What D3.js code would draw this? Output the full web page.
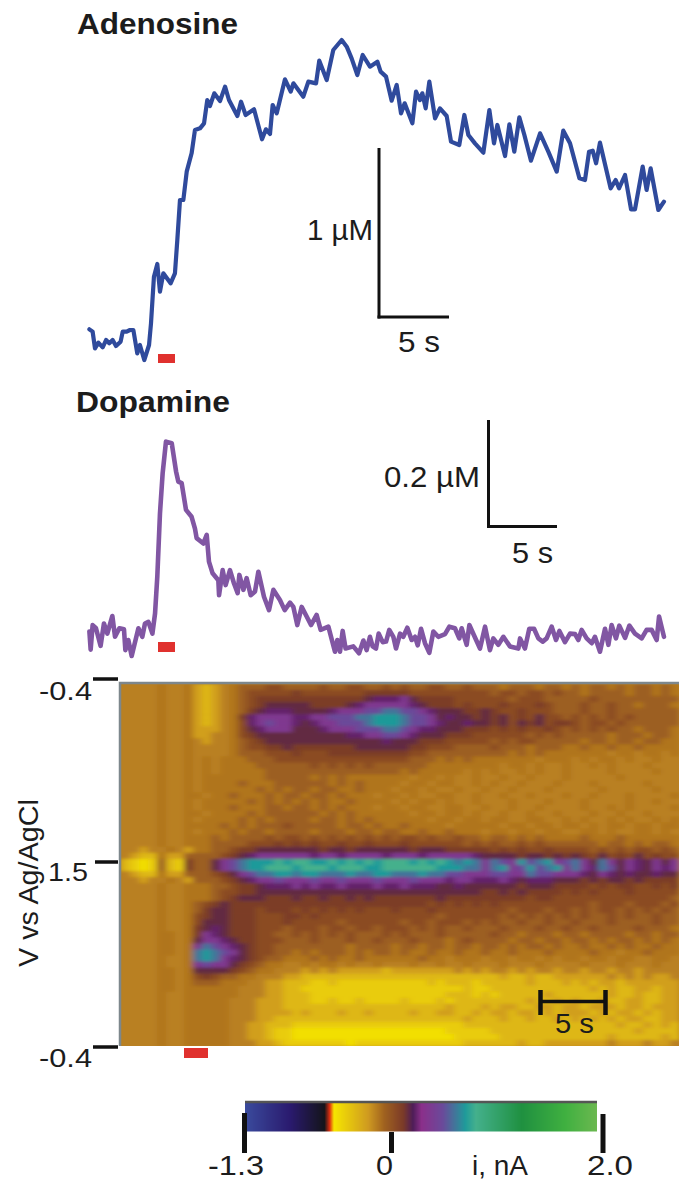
<!DOCTYPE html>
<html>
<head>
<meta charset="utf-8">
<script src="https://cdn.jsdelivr.net/npm/d3@7"></script>
<style>
  html, body { margin: 0; background: #fff; }
  svg { display: block; }
  text { font-family: "Liberation Sans", Arial, sans-serif; fill: #1c1c1c; }
</style>
</head>
<body>
<svg id="chart" width="679" height="1180"></svg>
<script>
// Adenosine trace: time from stimulation onset (s), concentration (nM)
const adenosineTime = [-4.90,-4.67,-4.50,-4.26,-3.95,-3.71,-3.48,-3.24,-3.00,-2.67,-2.52,-2.24,-2.00,-1.76,-1.48,-1.29,-0.98,-0.64,-0.50,-0.29,-0.05,0.14,0.38,0.90,1.21,1.38,1.57,1.81,2.05,2.40,2.64,3.00,3.29,3.52,3.71,4.02,4.43,4.79,5.07,5.67,5.93,6.26,6.86,7.43,7.71,8.00,8.19,8.48,9.07,9.48,9.67,10.38,10.74,11.29,11.52,12.05,12.52,13.12,13.48,13.83,14.24,14.62,15.14,15.67,15.90,16.29,16.69,17.05,17.36,17.62,18.17,18.43,18.71,18.88,19.12,19.38,19.79,20.14,20.62,20.93,21.52,21.88,22.17,22.64,23.24,23.67,24.00,24.24,24.79,25.10,25.45,25.81,26.17,26.64,27.29,27.88,28.48,28.95,29.43,30.10,30.50,30.79,31.05,31.29,31.57,32.33,32.69,32.93,33.36,33.79,34.07,34.62,34.90,35.19,35.74,36.14];
const adenosineNM = [124,110,10,44,16,60,40,60,24,50,110,110,120,120,-20,30,-60,30,160,440,516,350,460,400,460,660,900,900,1070,1180,1320,1330,1360,1500,1464,1540,1494,1580,1500,1404,1490,1410,1444,1264,1324,1296,1470,1420,1624,1550,1600,1520,1610,1600,1736,1620,1800,1860,1820,1750,1650,1770,1700,1730,1670,1640,1496,1590,1420,1480,1360,1550,1500,1540,1450,1610,1390,1450,1404,1250,1230,1410,1290,1240,1184,1440,1240,1350,1164,1354,1190,1396,1290,1136,1300,1190,1070,1316,1240,1030,1020,1190,1196,1120,1244,970,1020,970,1050,844,844,1100,960,1090,840,890];

// Dopamine trace
const dopamineTime = [-4.90,-4.81,-4.67,-4.43,-4.10,-3.86,-3.62,-3.26,-3.07,-2.76,-2.43,-2.33,-2.12,-1.88,-1.40,-1.12,-0.93,-0.69,-0.40,-0.21,-0.05,0.14,0.33,0.57,0.98,1.29,1.45,1.69,2.00,2.40,2.64,2.76,3.24,3.48,3.64,3.90,4.31,4.36,4.62,4.83,5.14,5.43,5.69,5.81,6.10,6.33,6.62,6.93,7.17,7.57,7.93,8.24,8.71,9.05,9.43,9.67,9.95,10.26,10.62,10.93,11.33,11.62,12.17,12.64,12.81,13.00,13.19,13.40,13.95,14.36,14.67,14.90,15.14,15.33,15.57,15.76,16.05,16.29,16.52,16.81,17.00,17.29,17.52,17.81,18.12,18.36,18.55,18.79,19.07,19.38,19.67,20.02,20.50,20.81,21.21,21.52,21.69,22.05,22.24,22.57,23.00,23.36,23.71,23.95,24.31,24.67,25.14,25.74,25.86,26.21,26.52,26.86,27.17,27.48,27.76,28.12,28.43,28.67,29.07,29.43,29.79,30.02,30.26,30.62,30.98,31.21,31.57,31.93,32.17,32.40,32.71,32.95,33.36,33.67,34.07,34.55,34.90,35.26,35.62,35.79,36.14];
const dopamineNM = [16,-18,28,22,-11,31,12,45,6,22,20,-19,0,-30,22,6,31,34,12,50,119,237,312,372,369,316,297,294,244,231,209,191,181,197,147,125,112,84,131,103,131,106,88,122,94,116,84,91,128,81,56,94,75,56,70,62,28,62,44,28,47,19,25,-22,0,-22,17,-16,-12,-25,-1,-19,6,-12,-16,12,-4,-3,19,6,-16,12,6,23,0,6,-10,21,-6,-24,16,6,11,25,22,3,22,-9,28,9,-16,25,-19,3,-9,6,-12,-16,3,-16,21,21,3,-3,3,25,0,17,-4,12,11,0,19,3,-6,6,-22,21,-9,28,3,27,4,27,12,3,19,19,0,44,6];

// Voltammogram, one letter per cell, looked up in heatLevelKeys / heatLevelNA.
// Rows run from the top of the image down, groups of ten cells are for counting.
const heatLevelKeys = ['Y','y','g','o','a','b','c','d','e','f','m','p','v','s','t','u'];
const heatLevelNA = [-0.44,-0.36,-0.27,-0.17,-0.08,-0.05,0.02,0.10,0.17,0.23,0.30,0.42,0.55,0.66,0.76,0.86];
const heatRows = [
  'aaaabaabog oabcccddcc ccdccddccd cdccddccdc ccbcccbccb cbccbcbccb cb',
  'aaaabaabog oabcddddde dddddddeee eedddddddd dcddcddcdc cbccccbccb cb',
  'aaaabaabog oabcdeeeee eeeeeeefmm mpfeeeeddd dddcdddccc ccdccccccc cc',
  'aaaabaabog oabcdeffff feeeefmppp ppmfeeeded ddedddedcc cdccdccbcc cb',
  'aaaabaabog oabcefmmmf fffmpppvvs svvpmfffee feddedddcc cdccdccccc cc',
  'aaaabaabog oabemppppm mppvvvsstt tsvvpfmffe fefdedfddc dcdcdcdccc cc',
  'aaaabaabog oabdmpvppm fmppvvvstt tsvvpmffmf fefdfefdee dcddcdcccc cc',
  'aaaabaaboo oabdfmpppf ffmpppvvvs svpmmfffee edededdedc dcdcdccbcc cb',
  'aaaabaaboo aabdefffff fffffmmppv vpmfffeeed dddddcdcdc ccccbcccbc cb',
  'aaaabaabao aabcdeffff fffffffffm fffeeedddd dcdcddcccc cbccbccbcc bb',
  'aaaabaabaa aabcddeefe eeeeeeffff ffeedddccc cdcccbcccb bcbbcbbcbb bb',
  'aaaabaabaa aabcccddde dddeeeeeee eeddcccccc cccbcbcbbb bbbbabbabb ab',
  'aaaabaabab abbbcccddd dddddddddd ddcccbcbcb bbbbbbabbb ababbabaab aa',
  'aaaabaabab abbbbccccc cdcdcdcdcc ccccbbbbbb bbabbabaab aababaaaba aa',
  'aaaabaabab abbbbbcccc cccccccccc cbcbbbbbab abaababaab aaaabaaaab aa',
  'aaaabaabab bbbbbbcccc cbcbcbbbbb bbabbabaab aabaabaaab aaaaabaaaa aa',
  'aaaabaabab bbbcbbbccc cccbcbcbbb babbabbaab abaabaaaba aabaaaaaba aa',
  'aaaabaabab bbbbbcbcbc cbccbbcbbb abbabaabaa baabaaabaa aaabaaaaab aa',
  'aaaabaabba bbcbbbcbcc bccbcbbbab babaabbaab aabaabaaab aabaaabaaa ab',
  'aaaabaabab bbbbcbcbcb cbcbbcbbbb ababbabaab aaabaaabaa abaaaabaab aa',
  'aaaabaabab bbcbbbccbc cbcbcbbbab babbaabbaa baabaabaaa abaababaaa ab',
  'aaaabaabba bbbbcbcccc ccbcbcbbbb bbabbabbab aabaabaaba aabaabaaba aa',
  'aaaabaabab bbbcbcbccc cbccbcbcbb bbbbabbabb abbaabbaab abaababaab ab',
  'aaaabaabbb bcbcbcccdc ccccbccbcb bcbbbbabbb bbabbabbab bababbabba bb',
  'aaaabaabab bbcbccbccc cbcccbccbc cbbcbbcbbb abbabbabba abbabaabba ba',
  'aaaabaabbb cbccccdcdd cdcdcdcdcd cddcdccdcc bccbcbcbbb bcbbbcbbbb bb',
  'aaaabaabbb ccccdddede deddeddedd deddddddcd cdccdcdccc cccbccbcbc cb',
  'aaoaabaobb ccdeefffff ffeffeffff ffefffeeee edededdedd ddcdcdcddc dc',
  'aoggbooccc cdefmppppp pmppmppppm pppmpppppm ffffeffefe fedfdedfde dd',
  'gyYycgyecc fpvstttutu uttutututu uutututsts psvptvstpv spfspfpmfp fp',
  'gyYycgyecc fpvsttuuut uuutuuuttu uuuuutttss pstpvtvstp spmsvfpmfp mp',
  'aoggbooccc defpvsstts ttssstsstt ssstssvvpp pvvppsvvpp pmfpmfmffm ff',
  'aaoaabaocc cdefmppvpp pvppvpppvp ppvpppmppm mmpmfmmmff fefeffefee ee',
  'aaaabaabbb ccdeefmmmp mpmmpmmmpm mpmmmffmff ffffefffee eededeedde de',
  'aaaabaabbb cddeefffff ffffffffff ffffffffff eefefeeeed ededddeddd dd',
  'aaaabaabbb cdefffeeef eefeefefee eeeeefeeee eeeeedeedd dddddddddd dc',
  'aaaabaabcd efeeeeeeee eeeeeeeeee eeeededede dedddddddd ddcdddcddd cd',
  'aaaabaabce ffeeedeeed ededededdd edddeddddd dddcdddcdd cdcddcdcdc dc',
  'aaaabaabde ffeeedddee dedddddddd dddddcdddd ddcdcdcdcd cdccdcdccd cc',
  'aaaabaabdf ffeeeddded ddddcddddd dcddcdddcd cdccdccdcc dcccdccccd cc',
  'aaaabaabef mfeeedddcd ddcddcddcd ddcdcdccdc ccdcccdccd ccdccccdcc cb',
  'aaaabbabep mfeeeddccd cdcdcdcccd cdcccdcccc cdccbcccbc cbccccbccb cc',
  'aaaabbabfp pmfeedddcc cdcccdccdc ccdcccbcdc cccbccbccb ccbcbccbcb cb',
  'aaaabbabps vpmfeddccc cccccbcccc bccbccbccb ccbcbccbcb bcbbcbcbbc bb',
  'aaaabbabst svpfeddccb cbcccbcbcc bcbbcbbcbb cbbcbbbcbb bbcbbabbcb bb',
  'aaaabaabst spmfedccbb bcbcbbcbbb bbbcbbabbb abbabbabab babbabbaab ba',
  'aaaabaabpv ppfedcbbaa babbabaaba aabaabaaba aabaaabaaa abaaabaaab aa',
  'aaaabbabff ffedcbbaaa oaoaooooog oooooooaoa oaaoaoaaoa aoaaoaaoaa aa',
  'aaaabbabde dccbbaaaoo gggggggggg gggggggggg ggoggoggoo ooooaoaoao oa',
  'aaaabbabcc cbbbaaoogg gyygyyyyyy yyyygygggy gggggogggo gogoogoooo oo',
  'aaaabbabbb bbbaaaoogg yyyyyyyyyy yyyyyyyygy yggggggggg ggogoggoog oo',
  'aaaabaabbb bbbaaaoogg gyyyyyyyyy yyyyyygggy gygggggogg ggggoggogg oo',
  'aaaabaabbb bbaaaooogg gyygyygyyy ygyyygyggg gggggoggog oggoggoogg oo',
  'aaaabaabbb bbaaaooogg gggggggggg ggggggoggg ogooggoogo ogooogoogo oo',
  'aaaabaabbb bbaaaoooog ogggoggogg ggoggooggo googoogogo oogogoogog oo',
  'aaaabaabbb bbaaaooggg gggggggggg ggggggggog ggoggoggog ogogogoogg oo',
  'aaaabaabbb bbaaoogggy yyyyyyyyyy yyyyyyyygg gggggggggg gggggoggog og',
  'aaaabaabbb bbaaoogyyY YYYYYYYYYY YYYYYYyyyy yggggggggg gggggggogg gg',
  'aaaabaabbb bbaaoogyyY YYYYYYYYYY YYYYYYYyyy yygggggggg ggggoggggg og',
  'aaaabaabbb bbaaaoogyy yyyyyYyyyy yyyyyyyygg ggggoggooo ooooaoooao oa'
];

// Colour bar, i in nA
const colorStopsNA = [-1.3,-0.88,-0.56,-0.51,-0.47,-0.15,0.0,0.18,0.27,0.35,0.55,0.76,0.86,1.29,1.7,2.0];
const colorStops = ['#3a4a9c','#2a1a6e','#14141a','#e03010','#f6e600','#cf9a20','#a0621f','#7a3a28','#4e1d58','#8a2f8a','#6a4a9a','#1f9a9a','#44b08c','#1f9040','#40b040','#6cb850'];

const svg = d3.select('#chart');
const traceColors = { adenosine: '#2f4a9c', dopamine: '#8156a3' };
const stimColor = '#e0312e';

// Same time base for both traces, 5 s = 70 px
const xTime = d3.scaleLinear().domain([0, 5]).range([158, 228]);
const yAdenosine = d3.scaleLinear().domain([0, 1000]).range([350, 183.33]);
const yDopamine = d3.scaleLinear().domain([0, 200]).range([640, 533.33]);

function drawTrace(times, values, yScale, color, width) {
  const path = d3.line()
    .x((d, i) => xTime(times[i]))
    .y(d => yScale(d));
  svg.append('path')
    .attr('d', path(values))
    .attr('fill', 'none')
    .attr('stroke', color)
    .attr('stroke-width', width)
    .attr('stroke-linejoin', 'round')
    .attr('stroke-linecap', 'round');
}

function label(text, x, y, size, width, weight) {
  const t = svg.append('text')
    .attr('x', x)
    .attr('y', y)
    .attr('font-size', size)
    .text(text);
  if (width) t.attr('textLength', width).attr('lengthAdjust', 'spacingAndGlyphs');
  if (weight) t.attr('font-weight', weight);
  return t;
}

function stroke(x1, y1, x2, y2, w) {
  svg.append('line')
    .attr('x1', x1).attr('y1', y1)
    .attr('x2', x2).attr('y2', y2)
    .attr('stroke', '#111')
    .attr('stroke-width', w);
}

function stimBar(x, y, w, h) {
  svg.append('rect')
    .attr('x', x).attr('y', y)
    .attr('width', w).attr('height', h)
    .attr('fill', stimColor);
}

// Traces
drawTrace(adenosineTime, adenosineNM, yAdenosine, traceColors.adenosine, 4.2);
drawTrace(dopamineTime, dopamineNM, yDopamine, traceColors.dopamine, 4.6);

label('Adenosine', 77, 34, 29, 161, 'bold');
label('Dopamine', 76, 412, 29, 154, 'bold');

// Scale bars
stroke(379, 148, 379, 318.5, 3);
stroke(377.5, 317, 449, 317, 3);
label('1 µM', 307, 240, 29, 66);
label('5 s', 398, 352, 29, 42);
stimBar(158, 354, 17, 9);

stroke(488.5, 420, 488.5, 528, 3);
stroke(487, 526.5, 557, 526.5, 3);
label('0.2 µM', 384, 487, 29, 96);
label('5 s', 512, 563, 29, 41);
stimBar(158, 642, 17, 10);

// Heat map
const heatBox = { left: 121, top: 684, width: 558, height: 362 };
const heatCells = heatRows.map(r => r.replace(/ /g, ''));
const keyToNA = new Map(heatLevelKeys.map((k, i) => [k, heatLevelNA[i]]));
const heatColor = d3.scaleLinear().domain(colorStopsNA).range(colorStops).clamp(true);

const xCell = d3.scaleBand()
  .domain(d3.range(heatCells[0].length))
  .range([heatBox.left, heatBox.left + heatBox.width]);
const yCell = d3.scaleBand()
  .domain(d3.range(heatCells.length))
  .range([heatBox.top, heatBox.top + heatBox.height]);

const defs = svg.append('defs');
defs.append('clipPath').attr('id', 'heat-clip')
  .append('rect')
  .attr('x', heatBox.left).attr('y', heatBox.top)
  .attr('width', heatBox.width).attr('height', heatBox.height);
defs.append('filter').attr('id', 'heat-soft')
  .attr('filterUnits', 'userSpaceOnUse')
  .attr('x', 100).attr('y', 660).attr('width', 620).attr('height', 410)
  .append('feGaussianBlur')
  .attr('stdDeviation', '3 1.6');

const heatClip = svg.append('g').attr('clip-path', 'url(#heat-clip)');
const heatG = heatClip.append('g').attr('filter', 'url(#heat-soft)');

// Bleeds past the frame so the blur doesn't fade out at the edges
heatG.append('rect')
  .attr('x', heatBox.left - 12).attr('y', heatBox.top - 12)
  .attr('width', heatBox.width + 24).attr('height', heatBox.height + 24)
  .attr('fill', heatColor(heatLevelNA[4]));

heatCells.forEach((row, j) => {
  heatG.selectAll(null)
    .data(row.split(''))
    .enter()
    .append('rect')
    .attr('x', (d, i) => xCell(i))
    .attr('y', yCell(j))
    .attr('width', xCell.bandwidth() + 0.6)
    .attr('height', yCell.bandwidth() + 0.6)
    .attr('fill', d => heatColor(keyToNA.get(d)));
});

// Frame on the left and top of the map
svg.append('path')
  .attr('d', `M${heatBox.left - 1},${heatBox.top + heatBox.height}V${heatBox.top - 1}H${heatBox.left + heatBox.width}`)
  .attr('fill', 'none')
  .attr('stroke', '#7d878c')
  .attr('stroke-width', 2.5);

// Voltage axis
stroke(93, 679, 118, 679, 3.5);
stroke(95, 862, 118, 862, 3.5);
stroke(93, 1047, 118, 1047, 3.5);
label('-0.4', 39, 700, 26, 53);
label('1.5', 48, 881, 26, 40);
label('-0.4', 39, 1067, 26, 53);
label('V vs Ag/AgCl', 0, 0, 28, 168)
  .attr('transform', 'translate(38,967) rotate(-90)');
stimBar(184, 1048, 24, 10);

// 5 s bar on the map
stroke(539, 1001.5, 606, 1001.5, 3.5);
stroke(540.5, 990, 540.5, 1015, 4.5);
stroke(605.5, 990, 605.5, 1015, 4.5);
label('5 s', 555, 1033, 27, 39);

// Colour bar, one pixel column per value
const xColor = d3.scaleLinear().domain([-1.3, 2.0]).range([245, 597]);
svg.append('g').selectAll('rect')
  .data(d3.range(245, 597))
  .enter()
  .append('rect')
  .attr('x', d => d)
  .attr('y', 1103)
  .attr('width', 1)
  .attr('height', 28.5)
  .attr('fill', d => heatColor(xColor.invert(d)));
svg.append('line')
  .attr('x1', 245).attr('x2', 597)
  .attr('y1', 1102).attr('y2', 1102)
  .attr('stroke', '#555')
  .attr('stroke-width', 2.5);

stroke(244.5, 1113, 244.5, 1153, 5);
stroke(391.5, 1132, 391.5, 1153, 5);
stroke(603, 1114, 603, 1153, 5);
label('-1.3', 208, 1175, 28, 56);
label('0', 376, 1175, 28, 17);
label('i, nA', 472, 1175, 28, 56);
label('2.0', 587, 1175, 28, 46);
</script>
</body>
</html>
